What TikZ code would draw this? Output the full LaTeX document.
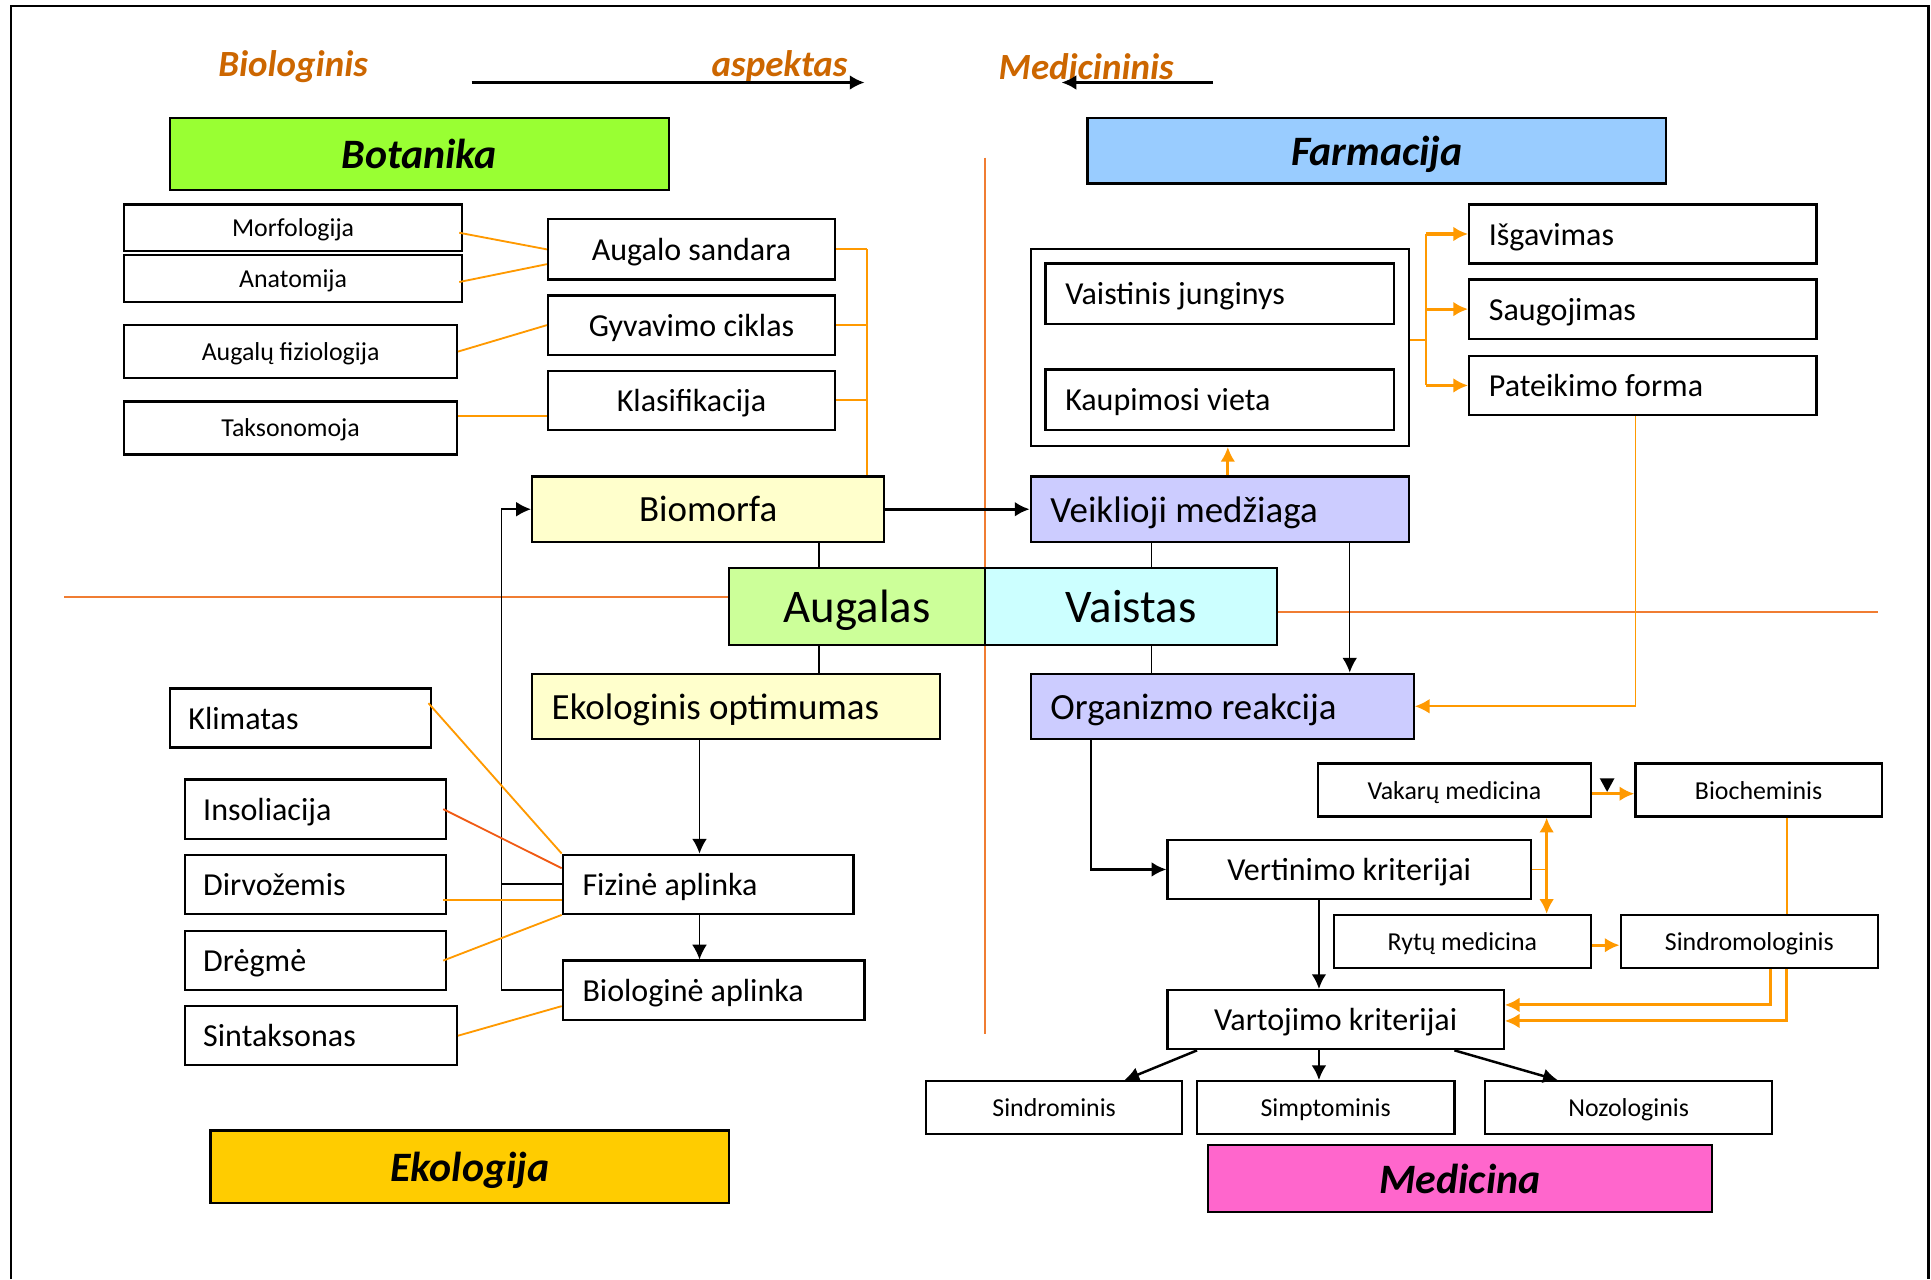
\documentclass[tikz,border=0pt]{standalone}
\usepackage{fontspec}
\setmainfont{Carlito}
\usepackage{tikz}
\usetikzlibrary{arrows.meta, positioning, calc}
\usepackage{xcolor}
\definecolor{oranzine}{RGB}{255,153,0}
\definecolor{skyrimo}{RGB}{240,125,50}
\definecolor{raudona}{RGB}{240,90,20}
\definecolor{ruda}{RGB}{204,102,0}
\definecolor{zalia}{RGB}{153,255,51}
\definecolor{melyna}{RGB}{153,204,255}
\definecolor{geltona}{RGB}{255,204,0}
\definecolor{rozine}{RGB}{255,102,204}
\definecolor{sviesgelt}{RGB}{255,255,204}
\definecolor{levanda}{RGB}{204,204,255}
\definecolor{sviesiazalia}{RGB}{204,255,153}
\definecolor{zydra}{RGB}{204,255,255}
\newcommand{\mazas}{\fontsize{21}{25}\selectfont}
\newcommand{\vidut}{\fontsize{26}{31}\selectfont}
\newcommand{\didel}{\fontsize{30}{36}\selectfont}
\newcommand{\milz}{\fontsize{38}{46}\selectfont}
\newcommand{\antr}{\fontsize{34}{40}\selectfont\bfseries\itshape}
\newcommand{\aspfont}{\fontsize{30}{36}\selectfont\bfseries\itshape}

\begin{document}
\begin{tikzpicture}[x=1pt, y=-1pt, >={Latex[length=12pt,width=12pt]},
    deze/.style={draw, line width=1.8pt, rectangle, inner sep=0pt, text depth=0pt, font=\vidut},
    kdeze/.style={deze, align=flush left, inner xsep=16pt, text width=#1},
    aspektas/.style={font=\aspfont, text=ruda},
    oranz/.style={draw=oranzine, line width=1.5pt},
    oranzr/.style={draw=oranzine, line width=2.5pt, ->},
    juoda/.style={line width=2pt, ->},
    plona/.style={line width=1.2pt},
    skyr/.style={draw=skyrimo, line width=1.5pt}]
    % Ribos
    \path[use as bounding box] (0,0) rectangle (1568,1038.6);
    \draw[line width=2pt] (9,1038.6) -- (9,5) -- (1566,5) -- (1566,1038.6);
    % Antraštė
    \node[aspektas] (biol) at (238,54) {Biologinis};
    \node[aspektas] (asp) at (633,54) {aspektas};
    \node[aspektas] (medc) at (882,54) {Medicininis};
    \coordinate (rod1a) at (383,67);
    \coordinate (rod1b) at (702,67);
    \coordinate (rod2a) at (985,67);
    \coordinate (rod2b) at (862,67);
    \draw[juoda] (rod1a) -- (rod1b);
    \draw[juoda] (rod2a) -- (rod2b);
    % Skyrimo linijos
    \coordinate (vir) at (800,128);
    \coordinate (apac) at (800,840);
    \coordinate (kaire) at (52,485);
    \coordinate (desine) at (1525,497);
    \draw[skyr] (vir) -- (apac);
    % Sritys
    \node[deze, fill=zalia, minimum width=405pt, minimum height=58pt, font=\antr] (botanika) at (340.5,125) {Botanika};
    \node[deze, fill=melyna, minimum width=470pt, minimum height=53pt, font=\antr] (farmacija) at (1118,122.5) {Farmacija};
    \node[deze, fill=geltona, minimum width=421pt, minimum height=59pt, font=\antr] (ekologija) at (381.5,947.5) {Ekologija};
    \node[deze, fill=rozine, minimum width=409pt, minimum height=54pt, font=\antr] (medicina) at (1185.5,957) {Medicina};
    % Botanika
    \node[deze, font=\mazas, minimum width=274pt, minimum height=38pt] (morf) at (238,185) {Morfologija};
    \node[deze, font=\mazas, minimum width=274pt, minimum height=38pt] (anat) at (238,226) {Anatomija};
    \node[deze, font=\mazas, minimum width=270pt, minimum height=43pt] (fiziol) at (236,285.5) {Augalų fiziologija};
    \node[deze, font=\mazas, minimum width=270pt, minimum height=43pt] (taks) at (236,347.5) {Taksonomoja};
    \node[deze, minimum width=233pt, minimum height=49pt] (sandara) at (561.5,202.5) {Augalo sandara};
    \node[deze, minimum width=233pt, minimum height=48pt] (ciklas) at (561.5,264) {Gyvavimo ciklas};
    \node[deze, minimum width=233pt, minimum height=48pt] (klasif) at (561.5,325) {Klasifikacija};
    \draw[oranz] ([xshift=-3pt,yshift=-4pt]morf.east) -- (sandara.west);
    \draw[oranz] ([xshift=-3pt,yshift=-3pt]anat.east) -- ([yshift=-12pt]sandara.west);
    \draw[oranz] (fiziol.east) -- (ciklas.west);
    \draw[oranz] ([yshift=10pt]taks.east) -- ([yshift=10pt]taks.east -| klasif.west);
    % Centras
    \node[deze, fill=sviesgelt, font=\didel, minimum width=286pt, minimum height=53pt] (biomorfa) at (575,413.5) {Biomorfa};
    \node[kdeze=275pt, fill=levanda, font=\didel, minimum height=53pt] (veiklioji) at (990.5,413.5) {Veiklioji medžiaga};
    \node[deze, fill=sviesiazalia, font=\milz, minimum width=208pt, minimum height=63pt] (augalas) at (696,492.5) {Augalas};
    \node[deze, fill=zydra, font=\milz, minimum width=237pt, minimum height=63pt] (vaistas) at (918.5,492.5) {Vaistas};
    \node[kdeze=299pt, fill=sviesgelt, font=\didel, minimum height=53pt] (ekolog) at (597.5,573.5) {Ekologinis optimumas};
    \node[kdeze=279pt, fill=levanda, font=\didel, minimum height=53pt] (organizmo) at (992.5,573.5) {Organizmo reakcija};
    \draw[oranz] (sandara.east) -- ++(25,0) coordinate (lauz);
    \draw[oranz] (ciklas.east) -- (ciklas.east -| lauz);
    \draw[oranz] (klasif.east) -- (klasif.east -| lauz);
    \draw[oranz] (lauz) -- (lauz |- biomorfa.north);
    \draw[plona] ([xshift=-31pt]augalas.north) -- ([xshift=-31pt]augalas.north |- biomorfa.south);
    \draw[plona] ([xshift=16.5pt]vaistas.north) -- ([xshift=16.5pt]vaistas.north |- veiklioji.south);
    \draw[plona] ([xshift=-31pt]augalas.south) -- ([xshift=-31pt]augalas.south |- ekolog.north);
    \draw[plona] ([xshift=16.5pt]vaistas.south) -- ([xshift=16.5pt]vaistas.south |- organizmo.north);
    \draw[skyr] (kaire) -- (kaire -| augalas.west);
    \draw[skyr] (desine -| vaistas.east) -- (desine);
    \draw[juoda, line width=2.5pt] (biomorfa.east) -- (veiklioji.west);
    \draw[plona, ->] ([xshift=105.5pt]veiklioji.south) -- ([xshift=105.5pt]veiklioji.south |- organizmo.north);
    % Farmacija
    \node[deze, minimum width=307pt, minimum height=160pt] (vaistbox) at (990.5,282) {};
    \node[kdeze=251pt, minimum height=49pt] (junginys) at (990.5,238.5) {Vaistinis junginys};
    \node[kdeze=251pt, minimum height=49pt] (kaupimo) at (990.5,324.5) {Kaupimosi vieta};
    \node[kdeze=250pt, minimum height=48pt] (isgav) at (1334,190) {Išgavimas};
    \node[kdeze=250pt, minimum height=48pt] (saugo) at (1334,251) {Saugojimas};
    \node[kdeze=250pt, minimum height=48pt] (pateik) at (1334,313) {Pateikimo forma};
    \draw[oranzr] ([xshift=6.5pt]veiklioji.north) -- ([xshift=6.5pt]veiklioji.north |- vaistbox.south);
    \draw[oranz] ([yshift=6pt]vaistbox.east) -- ++(13,0) coordinate (sak);
    \draw[oranz] (sak |- isgav.west) -- (sak |- pateik.west);
    \draw[oranzr] (sak |- isgav.west) -- (isgav.west);
    \draw[oranzr] (sak |- saugo.west) -- (saugo.west);
    \draw[oranzr] (sak |- pateik.west) -- (pateik.west);
    \draw[oranz, ->] ([xshift=-6pt]pateik.south) |- (organizmo.east);
    % Ekologija
    \node[kdeze=204pt, minimum height=48pt] (fizine) at (575,718) {Fizinė aplinka};
    \node[kdeze=213pt, minimum height=48pt] (biologine) at (579.5,804) {Biologinė aplinka};
    \node[kdeze=182pt, inner xsep=15pt, minimum height=48pt] (klimatas) at (244,583) {Klimatas};
    \node[kdeze=182pt, inner xsep=15pt, minimum height=48pt] (insol) at (256,657) {Insoliacija};
    \node[kdeze=182pt, inner xsep=15pt, minimum height=48pt] (dirvo) at (256,718) {Dirvožemis};
    \node[kdeze=182pt, inner xsep=15pt, minimum height=48pt] (dregme) at (256,780) {Drėgmė};
    \node[kdeze=191pt, inner xsep=15pt, minimum height=48pt] (sintak) at (260.5,841) {Sintaksonas};
    \draw[plona, ->] ([xshift=-7pt]fizine.north |- ekolog.south) -- ([xshift=-7pt]fizine.north);
    \draw[plona, ->] ([xshift=-7pt]fizine.south) -- ([xshift=-7pt]fizine.south |- biologine.north);
    \draw[plona] (fizine.west) -- ++(-49,0);
    \draw[plona, ->] (biologine.west) -- ++(-49,0) |- (biomorfa.west);
    \draw[oranz] ([xshift=-3pt,yshift=12pt]klimatas.east) -- (fizine.north west);
    \draw[draw=raudona, line width=1.5pt] ([xshift=-3pt]insol.east) -- ([yshift=13pt]fizine.west);
    \draw[oranz] ([xshift=-3pt,yshift=-13pt]dirvo.east) -- ([yshift=-13pt]dirvo.east -| fizine.west);
    \draw[oranz] ([xshift=-3pt]dregme.east) -- (fizine.south west);
    \draw[oranz] (sintak.east) -- ([yshift=-13pt]biologine.west);
    % Medicina
    \node[deze, minimum width=295pt, minimum height=48pt] (vertinimo) at (1095.5,706) {Vertinimo kriterijai};
    \node[deze, font=\mazas, minimum width=222pt, minimum height=43pt] (vakaru) at (1181,641.5) {Vakarų medicina};
    \node[deze, font=\mazas, minimum width=200pt, minimum height=43pt] (biochem) at (1428,641.5) {Biocheminis};
    \node[deze, font=\mazas, minimum width=209pt, minimum height=43pt] (rytu) at (1187.5,764.5) {Rytų medicina};
    \node[deze, font=\mazas, minimum width=209pt, minimum height=43pt] (sindromol) at (1420.5,764.5) {Sindromologinis};
    \node[deze, minimum width=273pt, minimum height=48pt] (vartojimo) at (1084.5,828) {Vartojimo kriterijai};
    \node[deze, font=\mazas, minimum width=208pt, minimum height=43pt] (sindrom) at (856,899.5) {Sindrominis};
    \node[deze, font=\mazas, minimum width=209pt, minimum height=43pt] (simpt) at (1076.5,899.5) {Simptominis};
    \node[deze, font=\mazas, minimum width=233pt, minimum height=43pt] (nozol) at (1322.5,899.5) {Nozologinis};
    \draw[juoda] ([xshift=-106.5pt]organizmo.south) |- (vertinimo.west);
    \draw[juoda] ([xshift=-24.5pt]vertinimo.south) -- ([xshift=-24.5pt]vertinimo.south |- vartojimo.north);
    \draw[juoda] ([xshift=-112.5pt]vartojimo.south) -- ([xshift=57pt]sindrom.north);
    \draw[juoda] ([xshift=-13.5pt]vartojimo.south) -- ([xshift=-13.5pt]vartojimo.south |- simpt.north);
    \draw[juoda] ([xshift=96.5pt]vartojimo.south) -- ([xshift=-57.5pt]nozol.north);
    \draw[oranz] (vertinimo.east) -- ++(12,0) coordinate (dvig);
    \draw[oranzr, <->] (dvig |- vakaru.south) -- (dvig |- rytu.north);
    \draw[oranzr] ([yshift=-3pt]vakaru.east) -- ([yshift=-3pt]biochem.west);
    \fill (1299,632) -- (1311,632) -- (1305,643) -- cycle;
    \draw[oranzr] ([yshift=-3pt]rytu.east) -- ([yshift=-3pt]sindromol.west);
    \draw[oranz] ([xshift=23pt]biochem.south) -- ([xshift=23pt]biochem.south |- sindromol.north);
    \draw[oranzr] ([xshift=17.5pt]sindromol.south) |- ([yshift=12pt]vartojimo.east);
    \draw[oranzr] ([xshift=30.5pt]sindromol.south) |- ([yshift=-1pt]vartojimo.east);
\end{tikzpicture}
\end{document}
